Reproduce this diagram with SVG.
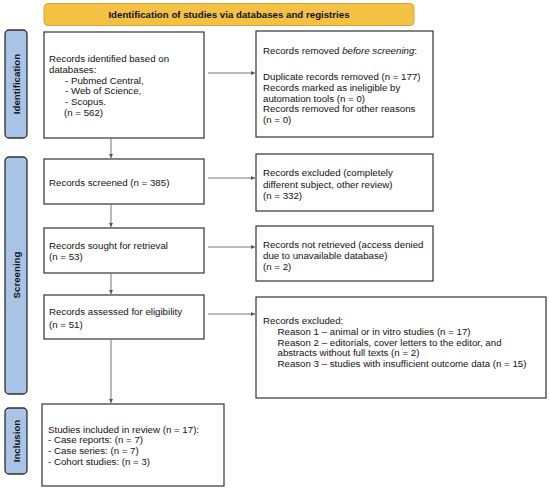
<svg xmlns="http://www.w3.org/2000/svg" width="550" height="491" viewBox="0 0 550 491">
<defs>
<style>
text{font-family:"Liberation Sans",Arial,sans-serif;font-size:9.7px;fill:#111}
.b{font-weight:bold}
.box{fill:#fff;stroke:#333;stroke-width:1.2}
.side{fill:#a9c4e6;stroke:#2b2f36;stroke-width:1.3}
.con{stroke:#777;stroke-width:1;fill:none}
</style>
<marker id="ah" viewBox="0 0 6 6" refX="6" refY="3" markerWidth="4" markerHeight="4" orient="auto"><path d="M0,0 L6,3 L0,6 z" fill="#555"/></marker>
</defs>
<rect width="550" height="491" fill="#fff"/>
<g id="title"><rect x="44" y="3.5" width="370" height="22" rx="4" fill="#f3c244" stroke="#d9a532" stroke-width="1"/><text class="b" x="229" y="18" text-anchor="middle">Identification of studies via databases and registries</text></g>
<g id="side-identification"><rect class="side" x="5" y="30" width="22" height="108" rx="4"/><text class="b" transform="translate(19.5,84) rotate(-90)" text-anchor="middle">Identification</text></g>
<g id="side-screening"><rect class="side" x="5" y="157" width="22" height="237" rx="4"/><text class="b" transform="translate(19.5,275) rotate(-90)" text-anchor="middle">Screening</text></g>
<g id="side-inclusion"><rect class="side" x="5" y="408" width="22" height="66" rx="4"/><text class="b" transform="translate(19.5,441) rotate(-90)" text-anchor="middle">Inclusion</text></g>
<g id="identified"><rect class="box" x="44" y="32" width="160" height="106"/>
<text x="49" y="62">Records identified based on</text>
<text x="49" y="72.5">databases:</text>
<text x="65" y="83.5">-  Pubmed Central,</text>
<text x="65" y="94">-  Web of Science,</text>
<text x="65" y="104.5">-  Scopus.</text>
<text x="64" y="115.5">(n = 562)</text></g>
<g id="removed"><rect class="box" x="256" y="31" width="177" height="106"/>
<text x="263" y="53.5">Records removed <tspan font-style="italic">before screening</tspan>:</text>
<text x="263" y="79.5">Duplicate records removed  (n = 177)</text>
<text x="263" y="90.8">Records marked as ineligible by</text>
<text x="263" y="101.5">automation tools (n = 0)</text>
<text x="263" y="111.8">Records removed for other reasons</text>
<text x="263" y="122.5">(n = 0)</text></g>
<g id="screened"><rect class="box" x="44" y="159" width="160" height="45"/>
<text x="49" y="185.5">Records screened (n = 385)</text></g>
<g id="excluded1"><rect class="box" x="256" y="154" width="177" height="57"/>
<text x="263" y="176">Records excluded (completely</text>
<text x="263" y="187.5">different subject, other review)</text>
<text x="263" y="198.8">(n = 332)</text></g>
<g id="sought"><rect class="box" x="44" y="228" width="160" height="45"/>
<text x="49" y="248.5">Records sought for retrieval</text>
<text x="49" y="260">(n = 53)</text></g>
<g id="notretrieved"><rect class="box" x="256" y="226" width="177" height="55"/>
<text x="263" y="247.5">Records not retrieved (access denied</text>
<text x="263" y="258.8">due to unavailable database)</text>
<text x="263" y="269.8">(n = 2)</text></g>
<g id="assessed"><rect class="box" x="44" y="295" width="160" height="44"/>
<text x="49" y="315">Records assessed for eligibility</text>
<text x="49" y="327.5">(n = 51)</text></g>
<g id="excluded2"><rect class="box" x="256" y="297" width="290" height="101"/>
<text x="263" y="324">Records excluded:</text>
<text x="277.5" y="334.8">Reason 1 – animal or in vitro studies (n = 17)</text>
<text x="277.5" y="345.5">Reason 2 – editorials, cover letters to the editor, and</text>
<text x="277.5" y="355.8">abstracts without full texts (n = 2)</text>
<text x="277.5" y="366.8">Reason 3 – studies with insufficient outcome data (n = 15)</text></g>
<g id="included"><rect class="box" x="42" y="404" width="182" height="82"/>
<text x="48" y="432.5">Studies included in review (n = 17):</text>
<text x="48" y="443">-  Case reports: (n = 7)</text>
<text x="48" y="454">-  Case series: (n = 7)</text>
<text x="48" y="464.8">-  Cohort studies: (n = 3)</text></g>
<g id="connectors">
<line class="con" x1="208" y1="73" x2="255" y2="73" marker-end="url(#ah)"/>
<line class="con" x1="111" y1="138" x2="111" y2="158" marker-end="url(#ah)"/>
<line class="con" x1="208" y1="178" x2="255" y2="178" marker-end="url(#ah)"/>
<line class="con" x1="111" y1="204" x2="111" y2="227" marker-end="url(#ah)"/>
<line class="con" x1="208" y1="247" x2="255" y2="247" marker-end="url(#ah)"/>
<line class="con" x1="111" y1="273" x2="111" y2="294" marker-end="url(#ah)"/>
<line class="con" x1="208" y1="314" x2="255" y2="314" marker-end="url(#ah)"/>
<line class="con" x1="111" y1="339" x2="111" y2="403" marker-end="url(#ah)"/>
</g>
</svg>
